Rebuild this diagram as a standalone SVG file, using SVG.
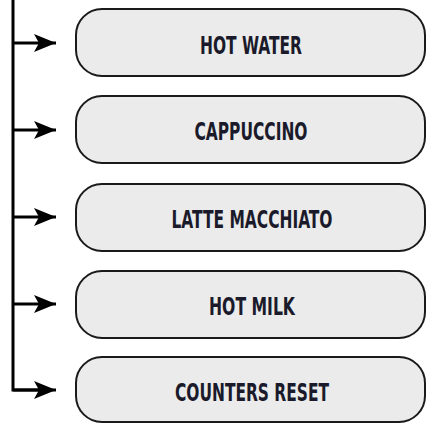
<svg xmlns="http://www.w3.org/2000/svg" width="427" height="423" viewBox="0 0 427 423">
<style>
.box{fill:#ebebeb;stroke:#1a1a1a;stroke-width:2}
.lbl{font-family:"Liberation Sans Narrow","DejaVu Sans Condensed","Liberation Sans",sans-serif;font-stretch:condensed;font-weight:bold;font-size:25px;fill:#1a1a2a;text-anchor:middle}
.wire{fill:none;stroke:#000;stroke-width:3}
</style>
<defs>
<marker id="ah" markerUnits="userSpaceOnUse" markerWidth="24" markerHeight="20" refX="22" refY="9" orient="auto">
<path d="M0,0 L22,9 L0,18 L5,9 Z" fill="#000"/>
</marker>
</defs>
<rect width="427" height="423" fill="#fff"/>
<g id="connectors">
<path class="wire" d="M13,0 V390 H40"/>
<path class="wire" d="M13,43 H56" marker-end="url(#ah)"/>
<path class="wire" d="M13,130 H56" marker-end="url(#ah)"/>
<path class="wire" d="M13,217 H56" marker-end="url(#ah)"/>
<path class="wire" d="M13,304 H56" marker-end="url(#ah)"/>
<path class="wire" d="M13,390 H56" marker-end="url(#ah)"/>
</g>
<g id="n1"><rect class="box" x="76" y="9" width="349" height="67" rx="26"/><text class="lbl" x="251" y="54" textLength="102" lengthAdjust="spacingAndGlyphs">HOT WATER</text></g>
<g id="n2"><rect class="box" x="76" y="96" width="349" height="67" rx="26"/><text class="lbl" x="251" y="140" textLength="113" lengthAdjust="spacingAndGlyphs">CAPPUCCINO</text></g>
<g id="n3"><rect class="box" x="76" y="184" width="349" height="67" rx="26"/><text class="lbl" x="252" y="228" textLength="161" lengthAdjust="spacingAndGlyphs">LATTE MACCHIATO</text></g>
<g id="n4"><rect class="box" x="76" y="271" width="349" height="67" rx="26"/><text class="lbl" x="252" y="315" textLength="86" lengthAdjust="spacingAndGlyphs">HOT MILK</text></g>
<g id="n5"><rect class="box" x="76" y="357" width="349" height="65" rx="26"/><text class="lbl" x="252" y="401" textLength="154" lengthAdjust="spacingAndGlyphs">COUNTERS RESET</text></g>
</svg>
